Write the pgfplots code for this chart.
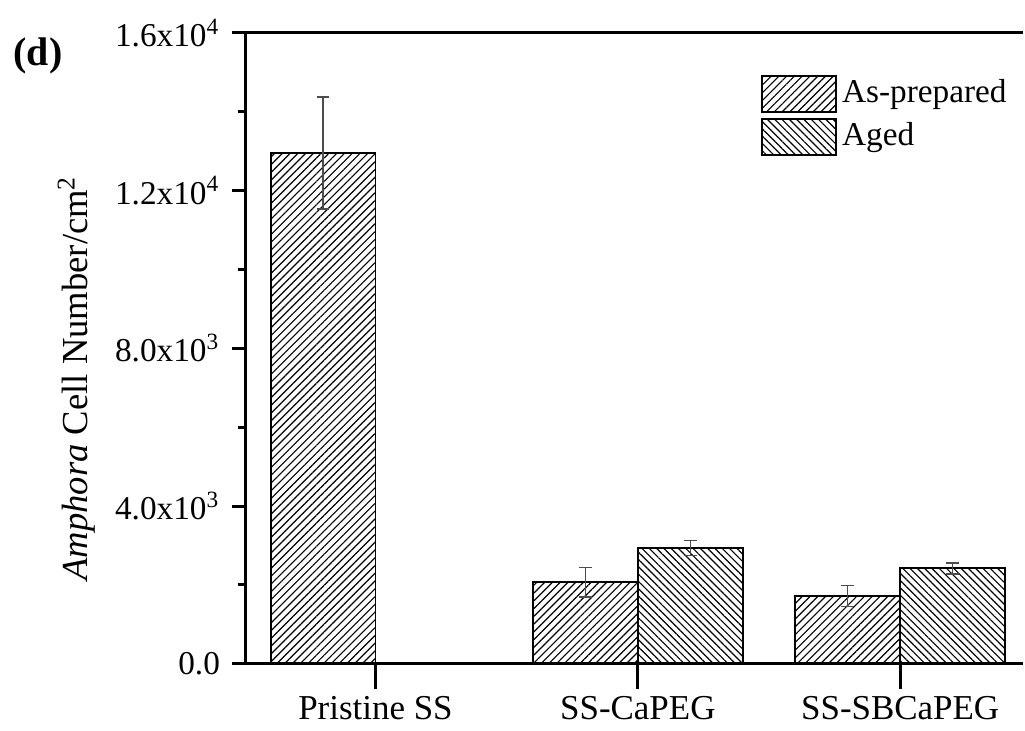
\documentclass[border=0pt]{standalone}
\usepackage{fontspec}
\setmainfont{Liberation Serif}
\usepackage{pgfplots}
\pgfplotsset{compat=1.18}
\usetikzlibrary{patterns.meta}

\pgfplotstableread{
x   y      e
0   12950  1420
1   2070   370
2   1720   270
}\asprepared
\pgfplotstableread{
x   y      e
1   2940   190
2   2420   140
}\aged

\begin{document}
\begin{tikzpicture}
\begin{axis}[
  scale only axis, width=233.7pt, height=189.6pt,
  ybar=0pt, bar width=0.4,
  xmin=-0.495, xmax=2.47, ymin=0, ymax=16000,
  axis y line*=left, axis x line*=box,
  axis line style={line width=0.9pt},
  xtick pos=left, ytick pos=left,
  tick align=outside,
  major tick length=4.2pt, minor tick length=2.4pt,
  every tick/.style={line width=0.9pt, black},
  xtick={0,1,2},
  xticklabels={Pristine SS, SS-CaPEG, SS-SBCaPEG},
  x tick style={/pgfplots/major tick length=7.5pt},
  xticklabel style={yshift=-2pt, font=\fontsize{10.5}{12}\selectfont},
  scaled y ticks=false,
  ytick={0,4000,8000,12000,16000},
  yticklabels={0.0, 4.0x10\textsuperscript{3}, 8.0x10\textsuperscript{3}, 1.2x10\textsuperscript{4}, 1.6x10\textsuperscript{4}},
  minor y tick num=1,
  yticklabel style={font=\fontsize{10}{12}\selectfont},
  ylabel={\textit{Amphora} Cell Number/cm\textsuperscript{2}},
  ylabel style={font=\fontsize{11}{13}\selectfont, at={(ticklabel cs:0.453)}},
  ylabel shift=-1pt,
  clip=false,
  legend style={at={(0.662,0.935)}, anchor=north west, draw=none, fill=none,
    font=\fontsize{10}{12}\selectfont, row sep=1.5pt, inner sep=0pt,
    nodes={inner sep=1.5pt}},
  legend cell align=left,
  legend image code/.code={\draw[#1] (0cm,-0.19cm) rectangle (0.78cm,0.19cm);},
  error bars/error bar style={line width=0.45pt, black!70},
  error bars/error mark options={rotate=90, mark size=1.9pt, line width=0.45pt, black!70},
]
\addplot[draw=black, line width=0.6pt,
  pattern={Lines[angle=45,distance=1.65pt,line width=0.35pt]},
  error bars/.cd, y dir=both, y explicit]
  table[x=x, y=y, y error=e] {\asprepared};
\addlegendentry{As-prepared}
\addplot[draw=black, line width=0.6pt,
  pattern={Lines[angle=-45,distance=1.55pt,line width=0.35pt]},
  error bars/.cd, y dir=both, y explicit]
  table[x=x, y=y, y error=e] {\aged};
\addlegendentry{Aged}
\node[font=\bfseries\fontsize{12}{14}\selectfont] at (rel axis cs:-0.267,0.964) {(d)};
\path (rel axis cs:-0.3158,-0.106) rectangle (rel axis cs:1,1.052);
\end{axis}
\end{tikzpicture}
\end{document}
